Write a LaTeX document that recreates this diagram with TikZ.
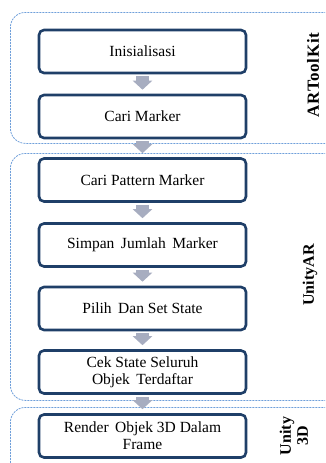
\documentclass[tikz,border=0pt]{standalone}
\usepackage{fontspec}
\setmainfont{Liberation Serif}
\usetikzlibrary{arrows.meta}
\definecolor{boxc}{HTML}{1F3F68}
\definecolor{grpc}{HTML}{6F9FDA}
\definecolor{arrc}{HTML}{A7ADC0}
\begin{document}
\begin{tikzpicture}[x=1pt,y=-1pt,
  stepbox/.style={draw=boxc, line width=2.6pt, rounded corners=5pt, minimum width=207pt,
    minimum height=43pt, inner sep=0pt, align=center, font=\fontsize{15.5}{17}\selectfont},
  grp/.style={draw=grpc, line width=0.8pt, dash pattern=on 2pt off 1pt, rounded corners=15pt,
    anchor=north west, inner sep=0pt},
  blk/.style={draw=arrc, line width=13pt, -{Triangle[length=9pt,width=19pt]}},
  lbl/.style={rotate=90, font=\bfseries\fontsize{16}{17}\selectfont, align=center, inner sep=0pt}]
\useasboundingbox (0,0) rectangle (325,463);
\clip (0,0) rectangle (325,463);
% groups
\node[grp, minimum width=340pt, minimum height=131pt] (g1) at (10,12) {};
\node[grp, minimum width=340pt, minimum height=247pt] (g2) at (10,153) {};
\node[grp, minimum width=340pt, minimum height=80pt] (g3) at (10,407) {};
% steps
\node[stepbox] (b1) at (142.5,51.5) {Inisialisasi};
\node[stepbox] (b2) at (142.5,116.5) {Cari Marker};
\node[stepbox] (b3) at (142.5,180) {Cari Pattern Marker};
\node[stepbox] (b4) at (142.5,245) {Simpan\hspace{0.42em}Jumlah\hspace{0.42em}Marker};
\node[stepbox] (b5) at (142.5,308.5) {Pilih\hspace{0.42em}Dan Set State};
\node[stepbox] (b6) at (142.5,372) {Cek State Seluruh\\Objek\hspace{0.42em}Terdaftar};
\node[stepbox] (b7) at (142.5,436) {Render\hspace{0.42em}Objek 3D Dalam\\Frame};
% arrows
\draw[blk] ([yshift=-2pt]b1.south) -- ([yshift=4pt]b2.north);
\draw[blk] ([yshift=-2pt]b2.south) -- ([yshift=4pt]b3.north);
\draw[blk] ([yshift=-2pt]b3.south) -- ([yshift=4pt]b4.north);
\draw[blk] ([yshift=-2pt]b4.south) -- ([yshift=4pt]b5.north);
\draw[blk] ([yshift=-2pt]b5.south) -- ([yshift=4pt]b6.north);
\draw[blk] ([yshift=-2pt]b6.south) -- ([yshift=4pt]b7.north);
% labels
\node[lbl, font=\bfseries\fontsize{17}{17}\selectfont\addfontfeatures{LetterSpace=4}] (l1) at (313,75) {ARToolKit};
\node[lbl] (l2) at (310,275) {UnityAR};
\node[lbl] (l3) at (294,436) {Unity\\3D};
\end{tikzpicture}
\end{document}
